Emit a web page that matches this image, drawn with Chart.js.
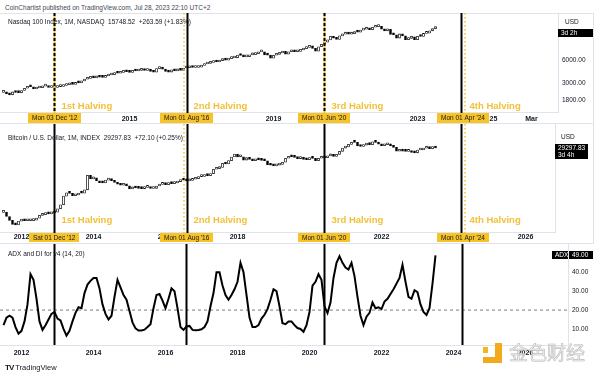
<!DOCTYPE html>
<html>
<head>
<meta charset="utf-8">
<script src="https://cdn.jsdelivr.net/npm/chart.js@4.4.0/dist/chart.umd.min.js"></script>
<style>
 body { margin:0; background:#fff; }
 #wrap { position:relative; width:600px; height:376px; overflow:hidden; font-family:"Liberation Sans", Arial, sans-serif; color:#131722; }
 canvas { position:absolute; left:0; }
 .txt { position:absolute; white-space:nowrap; font-size:6.5px; line-height:8px; }
 .hsep { position:absolute; left:0; width:594px; height:1px; background:#e0e3eb; }
 .vsep { position:absolute; width:1px; background:#e0e3eb; }
 .blk { position:absolute; }
</style>
</head>
<body>
<div id="wrap">
 <div class="txt" style="left:5px;top:4px;color:#434651">CoinChartist published on TradingView.com, Jul 28, 2023 22:10 UTC+2</div>
 <div class="hsep" style="top:13px"></div>
 <div class="hsep" style="top:123px"></div>
 <div class="hsep" style="top:243px"></div>
 <div class="vsep" style="left:593px;top:13px;height:230px"></div>

 <canvas id="ndxChart" width="600" height="110" style="top:13px"></canvas>
 <canvas id="btcChart" width="600" height="118" style="top:124px"></canvas>
 <canvas id="adxChart" width="600" height="114" style="top:244px"></canvas>

 <div class="txt" style="left:8px;top:18px">Nasdaq 100 Index, 1M, NASDAQ&nbsp; 15748.52&nbsp; +263.59 (+1.83%)</div>
 <div class="txt" style="left:8px;top:134px">Bitcoin / U.S. Dollar, 1M, INDEX&nbsp; 29297.83&nbsp; +72.10 (+0.25%)</div>
 <div class="txt" style="left:8px;top:250px">ADX and DI for v4 (14, 20)</div>
 <div class="txt" style="left:565px;top:18px">USD</div>
 <div class="txt" style="left:561px;top:133px">USD</div>

 <div class="txt" style="left:5px;top:363px;font-size:7.5px;line-height:9px"><b style="font-size:8px;letter-spacing:-1px">TV</b>&nbsp;TradingView</div>

 <div class="blk" style="left:483px;top:347px;width:5px;height:6px;background:#f5b526"></div>
 <div class="blk" style="left:495px;top:343px;width:7px;height:20px;background:#f2a91c"></div>
 <div class="blk" style="left:483px;top:357px;width:19px;height:6px;background:#f2a91c"></div>
 <div class="txt" style="left:509px;top:341px;font-size:19px;line-height:22px;font-family:'Noto Sans CJK SC';color:rgba(236,236,236,0.8);-webkit-text-stroke:0.6px #bcbcbc">金色财经</div>
</div>

<script>
// months are counted from Jan 2012 (0 = Jan 2012), data starts Jul 2011
var startMonth = -6;

// Nasdaq 100, monthly closes Jul 2011 .. Jul 2023
var ndxClose = [
 2300, 2200, 2140, 2330, 2290, 2280,
 2430, 2600, 2750, 2720, 2540, 2620, 2640, 2770, 2800, 2660, 2680, 2660,
 2730, 2740, 2820, 2880, 2990, 2910, 3090, 3050, 3220, 3390, 3480, 3590,
 3530, 3730, 3600, 3580, 3740, 3850, 3890, 4080, 4050, 4160, 4340, 4240,
 4150, 4440, 4330, 4420, 4510, 4400, 4590, 4270, 4180, 4650, 4670, 4590,
 4280, 4200, 4480, 4340, 4520, 4420, 4730, 4770, 4880, 4800, 4810, 4860,
 5100, 5330, 5440, 5580, 5790, 5650, 5880, 5990, 5980, 6250, 6370, 6400,
 6950, 6850, 6580, 6610, 6970, 7040, 7230, 7630, 7630, 7000, 6950, 6330,
 6900, 7100, 7380, 7780, 7130, 7670, 7850, 7660, 7750, 8080, 8400, 8730,
 9150, 8460, 7810, 8890, 9550, 10160, 10900, 12110, 11420, 11050, 12270, 12890,
 12930, 12900, 13090, 13860, 13690, 14550, 14960, 15580, 14690, 15850, 16140, 16320,
 14930, 14240, 14840, 12850, 12640, 11500, 13000, 12270, 10970, 11410, 11950, 10940,
 12100, 12040, 13180, 13250, 14250, 15180, 15748.52
];

// Bitcoin / USD, monthly closes Jul 2011 .. Jul 2023
var btcClose = [
 13.4, 8.2, 5.1, 3.2, 3.0, 4.7,
 5.5, 4.9, 4.9, 5.0, 5.2, 6.7, 9.4, 10.2, 12.4, 11.2, 12.6, 13.5,
 20.4, 33.4, 93, 139, 129, 97, 106, 135, 133, 198, 1130, 732,
 830, 570, 460, 450, 630, 640, 590, 480, 390, 340, 380, 320,
 220, 255, 245, 236, 230, 263, 285, 231, 236, 314, 377, 430,
 369, 437, 416, 448, 531, 673, 624, 573, 608, 700, 745, 964,
 970, 1190, 1080, 1350, 2300, 2480, 2870, 4700, 4340, 6470, 9950, 14150,
 10220, 10330, 6930, 9240, 7490, 6400, 7730, 7020, 6630, 6370, 4040, 3740,
 3460, 3810, 4100, 5320, 8570, 10820, 10090, 9630, 8300, 9150, 7570, 7190,
 9350, 8540, 6420, 8620, 9450, 9140, 11350, 11650, 10780, 13800, 19700, 28990,
 33100, 45200, 58800, 57700, 37300, 35000, 41500, 47100, 43800, 61300, 57000, 46300,
 38500, 43200, 45500, 37700, 31800, 19900, 23300, 20000, 19400, 20500, 17200, 16500,
 23100, 23150, 28500, 29250, 27200, 30480, 29297.83
];

// ADX (14, 20) of BTC, Jul 2011 .. Jul 2023
var adxValue = [
 12, 16, 17, 16, 11, 7.5,
 9, 14, 23, 39, 36, 26, 14, 9.5, 12, 15, 18, 19,
 15.5, 14.5, 10, 6.5, 9, 14, 18.5, 21.5, 21, 29, 33.5, 35.5,
 37, 37, 31.5, 23, 18, 15, 17, 27, 36, 32, 28, 25.5,
 19.5, 13.5, 10.3, 9.2, 9.2, 9.6, 11, 12.5, 21, 28, 28.5, 25,
 21, 26, 31.5, 30, 21, 11, 9.5, 11.3, 11.6, 9.5, 9.3, 9.5,
 9.8, 11, 14, 22, 29, 40, 40, 33, 28, 25.5, 28, 31,
 35, 45, 40, 28, 16, 11, 11, 12, 15.5, 17.5, 20.5, 25.5,
 31, 30, 22, 13, 12.5, 14, 14, 12, 10.5, 10, 8.5, 12,
 19, 33, 35, 39, 36, 22, 18.4, 24, 37, 45, 48.5, 45,
 42.5, 41.5, 45, 38, 27, 17, 12, 16.5, 18.5, 24, 21, 21.5,
 20.5, 24.5, 26, 28.5, 31, 34, 37, 44, 35, 27, 26, 30.5,
 29.5, 23, 19, 17.4, 21, 34, 49
];
var adxLevel = 20;

var halvingMonths = [11, 55, 101, 147];
var halvingNames = ["1st Halving", "2nd Halving", "3rd Halving", "4th Halving"];
var ndxBadges = ["Mon 03 Dec '12", "Mon 01 Aug '16", "Mon 01 Jun '20", "Mon 01 Apr '24"];
var btcBadges = ["Sat 01 Dec '12", "Mon 01 Aug '16", "Mon 01 Jun '20", "Mon 01 Apr '24"];

var ndxTickMonths = [36, 84, 132, 156, 170];
var ndxTickLabels = ["2015", "2019", "2023", "2025", "Mar"];
var yearTickMonths = [0, 24, 48, 72, 96, 120, 144, 168];
var yearTickLabels = ["2012", "2014", "2016", "2018", "2020", "2022", "2024", "2026"];
var ndxPriceTicks = [1800, 3000, 6000];
var adxTicks = [10, 20, 30, 40];

var FONT = "'Liberation Sans', Arial, sans-serif";
var YELLOW = "#f7c325";
var GOLD = "#f2c03a";
var BORDER = "#e0e3eb";

function toCandles(closes) {
 return closes.map(function (c, i) {
  var open = i > 0 ? closes[i - 1] : c;
  return { x: startMonth + i, y: [open, c] };
 });
}

function candleFill(ctx) {
 var r = ctx.raw;
 if (!r) return "#000";
 return r.y[1] >= r.y[0] ? "#ffffff" : "#000000";
}

// pixel mapping: month m sits at 21.5 + 3*m, plot starts at x = 0
function xMaxFor(right) {
 return (right - 21.5) / 3;
}
var xMin = -21.5 / 3;

function xScale(right, tickMonths, tickLabels, axisHeight, pad) {
 return {
  type: "linear",
  min: xMin,
  max: xMaxFor(right),
  offset: false,
  grid: { display: false, drawTicks: false },
  border: { display: true, color: BORDER },
  afterBuildTicks: function (scale) {
   scale.ticks = tickMonths.map(function (v) { return { value: v }; });
  },
  afterFit: function (scale) {
   scale.height = axisHeight;
   scale.paddingLeft = 0;
   scale.paddingRight = 0;
  },
  ticks: {
   autoSkip: false,
   maxRotation: 0,
   padding: pad,
   color: "#131722",
   font: { family: FONT, size: 7, weight: "bold" },
   callback: function (v) {
    var i = tickMonths.indexOf(v);
    return i >= 0 ? tickLabels[i] : "";
   },
  },
 };
}

function yScale(type, right, min, max, tickVals, showTicks) {
 return {
  type: type,
  position: "right",
  min: min,
  max: max,
  grid: { display: false, drawTicks: false },
  border: { display: true, color: BORDER },
  afterBuildTicks: function (scale) {
   scale.ticks = tickVals.map(function (v) { return { value: v }; });
  },
  afterFit: function (scale) {
   scale.width = 600 - right;
   scale.paddingTop = 0;
   scale.paddingBottom = 0;
  },
  ticks: {
   display: showTicks,
   padding: 4,
   color: "#131722",
   font: { family: FONT, size: 6.5 },
   callback: function (v) { return Number(v).toFixed(2); },
  },
 };
}

function drawVLine(ctx, x, y0, y1, color, width, dash) {
 ctx.save();
 ctx.beginPath();
 ctx.strokeStyle = color;
 ctx.lineWidth = width;
 ctx.setLineDash(dash || []);
 ctx.moveTo(x, y0);
 ctx.lineTo(x, y1);
 ctx.stroke();
 ctx.restore();
}

var halvingPlugin = {
 id: "halving",
 afterDatasetsDraw: function (chart, args, o) {
  var ctx = chart.ctx, area = chart.chartArea, xs = chart.scales.x;
  var y1 = area.bottom + o.extend;
  halvingMonths.forEach(function (m, i) {
   var x = xs.getPixelForValue(m);
   var kind = o.kinds[i];
   if (kind === "dash") {
    drawVLine(ctx, x, area.top, y1, GOLD, 2);
    drawVLine(ctx, x, area.top, y1, "#000", 2, [3, 2]);
   } else if (kind === "dotL") {
    drawVLine(ctx, x - 2.5, area.top, y1, GOLD, 1.5, [1.5, 2.5]);
    drawVLine(ctx, x + 1, area.top, y1, "#000", 2);
   } else if (kind === "dotR") {
    drawVLine(ctx, x + 2.5, area.top, y1, GOLD, 1.5, [1.5, 2.5]);
    drawVLine(ctx, x - 1, area.top, y1, "#000", 2);
   } else {
    drawVLine(ctx, x, area.top, y1, "#000", 2);
   }
   if (o.labels) {
    ctx.save();
    ctx.fillStyle = GOLD;
    ctx.font = "bold 9.5px " + FONT;
    ctx.textBaseline = "alphabetic";
    ctx.fillText(halvingNames[i], x + 7, area.bottom - o.labelLift);
    ctx.restore();
   }
  });
 },
 afterDraw: function (chart, args, o) {
  var ctx = chart.ctx, area = chart.chartArea, xs = chart.scales.x, ys = chart.scales.y;
  ctx.save();
  ctx.font = "6.5px " + FONT;
  ctx.textBaseline = "middle";
  if (o.badges) {
   halvingMonths.forEach(function (m, i) {
    var x = xs.getPixelForValue(m);
    var w = ctx.measureText(o.badges[i]).width + 8;
    ctx.fillStyle = YELLOW;
    ctx.fillRect(Math.round(x - w / 2), area.bottom + 1, Math.round(w), 10);
    ctx.fillStyle = "#131722";
    ctx.fillText(o.badges[i], Math.round(x - w / 2) + 4, area.bottom + 6.5);
   });
  }
  (o.boxes || []).forEach(function (b) {
   var y = Math.round(ys.getPixelForValue(b.value) + b.dy);
   ctx.fillStyle = "#000";
   ctx.fillRect(b.left, y, b.width, b.height);
   ctx.fillStyle = "#fff";
   b.lines.forEach(function (t, k) {
    ctx.fillText(t, b.left + 3, y + 4.5 + k * 7);
   });
  });
  ctx.restore();
 },
};

// Nasdaq pane
new Chart(document.getElementById("ndxChart"), {
 type: "bar",
 data: {
  datasets: [{
   data: toCandles(ndxClose),
   backgroundColor: candleFill,
   borderColor: "#000",
   borderWidth: 0.8,
   borderSkipped: false,
   barThickness: 2,
   minBarLength: 2,
  }],
 },
 plugins: [halvingPlugin],
 options: {
  responsive: false,
  animation: false,
  devicePixelRatio: 1,
  layout: { padding: 0 },
  plugins: {
   legend: { display: false },
   tooltip: { enabled: false },
   halving: {
    kinds: ["dash", "dotL", "dash", "dotR"],
    extend: 11,
    labels: true,
    labelLift: 3,
    badges: ndxBadges,
    boxes: [{ value: ndxClose[ndxClose.length - 1], dy: 2, left: 558, width: 35, height: 8, lines: ["3d 2h"] }],
   },
  },
  scales: {
   x: xScale(558, ndxTickMonths, ndxTickLabels, 11, 3),
   y: yScale("logarithmic", 558, 1286, 24150, ndxPriceTicks, true),
  },
 },
});

// Bitcoin pane
new Chart(document.getElementById("btcChart"), {
 type: "bar",
 data: {
  datasets: [{
   data: toCandles(btcClose),
   backgroundColor: candleFill,
   borderColor: "#000",
   borderWidth: 0.8,
   borderSkipped: false,
   barThickness: 2,
   minBarLength: 2,
  }],
 },
 plugins: [halvingPlugin],
 options: {
  responsive: false,
  animation: false,
  devicePixelRatio: 1,
  layout: { padding: 0 },
  plugins: {
   legend: { display: false },
   tooltip: { enabled: false },
   halving: {
    kinds: ["solid", "dotL", "solid", "dotR"],
    extend: 10,
    labels: true,
    labelLift: 9,
    badges: btcBadges,
    boxes: [{ value: btcClose[btcClose.length - 1], dy: -4, left: 555, width: 33, height: 15, lines: ["29297.83", "3d 4h"] }],
   },
  },
  scales: {
   x: xScale(555, yearTickMonths, yearTickLabels, 10, 1),
   y: yScale("logarithmic", 555, 1.28, 515700, [], false),
  },
 },
});

// ADX pane
var adxPoints = adxValue.map(function (v, i) { return { x: startMonth + i, y: v }; });
new Chart(document.getElementById("adxChart"), {
 type: "line",
 data: {
  datasets: [
   {
    data: adxPoints,
    borderColor: "#000",
    borderWidth: 2,
    pointRadius: 0,
    tension: 0,
   },
   {
    data: [{ x: xMin, y: adxLevel }, { x: xMaxFor(568), y: adxLevel }],
    borderColor: "#787b86",
    borderWidth: 1,
    borderDash: [3, 3],
    pointRadius: 0,
   },
  ],
 },
 plugins: [halvingPlugin],
 options: {
  responsive: false,
  animation: false,
  devicePixelRatio: 1,
  layout: { padding: 0 },
  plugins: {
   legend: { display: false },
   tooltip: { enabled: false },
   halving: {
    kinds: ["solid", "solid", "solid", "solid"],
    extend: 0,
    labels: false,
    boxes: [
     { value: adxValue[adxValue.length - 1], dy: -4, left: 552, width: 16, height: 8, lines: ["ADX"] },
     { value: adxValue[adxValue.length - 1], dy: -4, left: 569, width: 24, height: 8, lines: ["49.00"] },
    ],
   },
  },
  scales: {
   x: xScale(568, yearTickMonths, yearTickLabels, 13, 4),
   y: yScale("linear", 568, 1.5, 55, adxTicks, true),
  },
 },
});
</script>
</body>
</html>
